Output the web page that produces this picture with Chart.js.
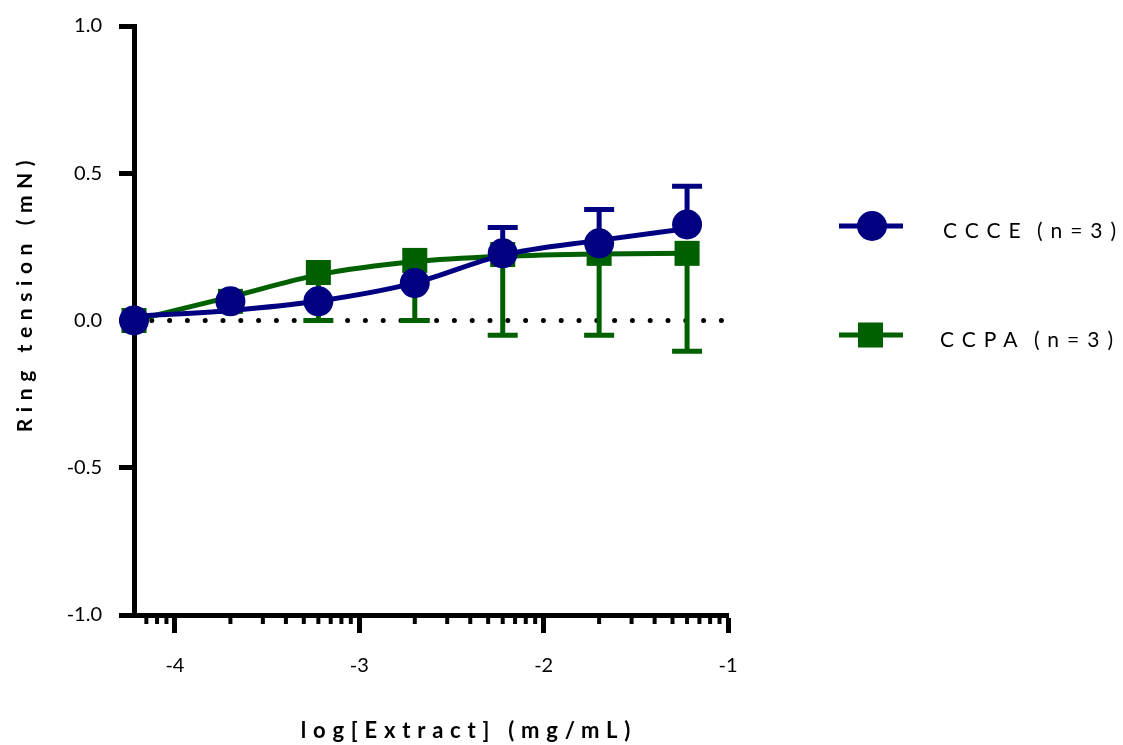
<!DOCTYPE html>
<html>
<head>
<meta charset="utf-8">
<script src="https://cdn.jsdelivr.net/npm/chart.js@4.4.1/dist/chart.umd.min.js"></script>
<style>
  html, body { margin: 0; padding: 0; background: #fff; }
  #wrap { width: 1123px; height: 745px; }
</style>
</head>
<body>
<div id="wrap"><canvas id="grafico" width="1123" height="745"></canvas></div>
<script>
// log[Extract] (mg/mL)
const logDose = [-4.222, -3.699, -3.222, -2.699, -2.222, -1.699, -1.222];

// CCCE: mean, SEM (drawn upward) and the fitted curve read at each dose
const ccceMean  = [0.0, 0.065, 0.065, 0.127, 0.228, 0.262, 0.326];
const ccceSem   = [0.0, 0.0, 0.0, 0.0, 0.088, 0.115, 0.130];
const ccceCurve = [0.014, 0.034, 0.066, 0.128, 0.222, 0.272, 0.312];

// CCPA: mean, SEM (drawn downward) and fitted curve
const ccpaMean  = [0.0, 0.065, 0.163, 0.204, 0.224, 0.228, 0.228];
const ccpaSem   = [0.0, 0.0, 0.163, 0.204, 0.274, 0.278, 0.332];
const ccpaCurve = [0.0, 0.080, 0.155, 0.200, 0.218, 0.226, 0.228];

const seriesNames = ['CCCE (n=3)', 'CCPA (n=3)'];
const xMajorTicks = [-4, -3, -2, -1];
const xMinorTicks = [
  -4.155, -4.097, -4.046,
  -3.699, -3.523, -3.398, -3.301, -3.222, -3.155, -3.097, -3.046,
  -2.699, -2.523, -2.398, -2.301, -2.222, -2.155, -2.097, -2.046,
  -1.699, -1.523, -1.398, -1.301, -1.222, -1.155, -1.097, -1.046
];

const NAVY = '#000080';
const GREEN = '#006000';
const FONT = 'Lato, "Open Sans", sans-serif';

const pts = (ys) => logDose.map((x, i) => ({ x: x, y: ys[i] }));

function drawErrorBars(ctx, x, y, means, sems, dir, color) {
  ctx.save();
  ctx.strokeStyle = color;
  ctx.lineWidth = 5;
  for (let i = 0; i < means.length; i++) {
    if (!sems[i]) continue;
    const px = x.getPixelForValue(logDose[i]);
    const p0 = y.getPixelForValue(means[i]);
    const p1 = y.getPixelForValue(means[i] + dir * sems[i]);
    ctx.beginPath();
    ctx.moveTo(px, p0);
    ctx.lineTo(px, p1);
    ctx.moveTo(px - 15, p1);
    ctx.lineTo(px + 15, p1);
    ctx.stroke();
  }
  ctx.restore();
}

const extras = {
  id: 'extras',
  beforeDatasetsDraw(chart) {
    const { ctx, scales: { x, y } } = chart;
    // dotted line at zero
    ctx.save();
    ctx.strokeStyle = '#000';
    ctx.lineWidth = 5;
    ctx.lineCap = 'round';
    ctx.setLineDash([0, 17.8]);
    ctx.beginPath();
    ctx.moveTo(x.getPixelForValue(x.min), y.getPixelForValue(0));
    ctx.lineTo(x.getPixelForValue(x.max), y.getPixelForValue(0));
    ctx.stroke();
    ctx.restore();

    drawErrorBars(ctx, x, y, ccceMean, ccceSem, 1, NAVY);
    drawErrorBars(ctx, x, y, ccpaMean, ccpaSem, -1, GREEN);
  },
  afterDraw(chart) {
    const { ctx, chartArea, scales: { x } } = chart;

    // minor log ticks on the x axis
    ctx.save();
    ctx.strokeStyle = '#000';
    ctx.lineWidth = 4;
    xMinorTicks.forEach(v => {
      const px = x.getPixelForValue(v);
      ctx.beginPath();
      ctx.moveTo(px, chartArea.bottom);
      ctx.lineTo(px, chartArea.bottom + 9);
      ctx.stroke();
    });
    ctx.restore();

    // axis titles
    ctx.save();
    ctx.fillStyle = '#000';
    ctx.textAlign = 'center';
    ctx.textBaseline = 'middle';
    ctx.font = 'bold 22px ' + FONT;
    ctx.letterSpacing = '6.8px';
    ctx.fillText('log[Extract] (mg/mL)', 469, 731);
    ctx.translate(25, 293);
    ctx.rotate(-Math.PI / 2);
    ctx.font = 'bold 21px ' + FONT;
    ctx.letterSpacing = '6.6px';
    ctx.fillText('Ring tension (mN)', 0, 0);
    ctx.restore();

    // legend
    const legendY = [226, 335];
    const colors = [NAVY, GREEN];
    ctx.save();
    seriesNames.forEach((name, i) => {
      const ly = legendY[i];
      ctx.strokeStyle = colors[i];
      ctx.fillStyle = colors[i];
      ctx.lineWidth = 5;
      ctx.beginPath();
      ctx.moveTo(839, ly);
      ctx.lineTo(903, ly);
      ctx.stroke();
      if (i === 0) {
        ctx.beginPath();
        ctx.arc(872, ly, 15, 0, Math.PI * 2);
        ctx.fill();
      } else {
        ctx.fillRect(858, ly - 12.5, 25, 25);
      }
      ctx.fillStyle = '#000';
      ctx.font = '21px ' + FONT;
      ctx.letterSpacing = '8px';
      ctx.wordSpacing = '-5px';
      ctx.textAlign = 'left';
      ctx.textBaseline = 'middle';
      ctx.fillText(name, i === 0 ? 943 : 940, ly + 5);
    });
    ctx.restore();
  }
};

const ctx = document.getElementById('grafico').getContext('2d');

new Chart(ctx, {
  type: 'scatter',
  data: {
    datasets: [
      {
        label: seriesNames[0],
        data: pts(ccceMean),
        showLine: false,
        pointStyle: 'circle',
        pointRadius: 15,
        pointBorderWidth: 0,
        backgroundColor: NAVY,
        borderColor: NAVY,
        clip: false
      },
      {
        label: seriesNames[0] + ' fit',
        data: pts(ccceCurve),
        showLine: true,
        pointRadius: 0,
        borderColor: NAVY,
        borderWidth: 5,
        cubicInterpolationMode: 'monotone',
        clip: false
      },
      {
        label: seriesNames[1],
        data: pts(ccpaMean),
        showLine: false,
        pointStyle: 'rect',
        pointRadius: 17.7,
        pointBorderWidth: 0,
        backgroundColor: GREEN,
        borderColor: GREEN,
        clip: false
      },
      {
        label: seriesNames[1] + ' fit',
        data: pts(ccpaCurve),
        showLine: true,
        pointRadius: 0,
        borderColor: GREEN,
        borderWidth: 5,
        cubicInterpolationMode: 'monotone',
        clip: false
      }
    ]
  },
  options: {
    responsive: false,
    animation: false,
    layout: { padding: { left: 0, top: 26, right: 395, bottom: 0 } },
    plugins: {
      legend: { display: false },
      tooltip: { enabled: false }
    },
    scales: {
      x: {
        type: 'linear',
        min: -4.222,
        max: -1,
        afterBuildTicks: (scale) => {
          scale.ticks = xMajorTicks.map(v => ({ value: v }));
        },
        afterFit: (scale) => {
          scale.height = 130;
          scale.paddingLeft = 0;
          scale.paddingRight = 0;
        },
        border: { display: true, color: '#000', width: 5 },
        grid: {
          display: true,
          drawOnChartArea: false,
          drawTicks: true,
          tickLength: 18,
          tickWidth: 5,
          tickColor: '#000'
        },
        ticks: {
          color: '#000',
          font: { family: FONT, size: 20 },
          padding: 21,
          maxRotation: 0,
          callback: (v) => String(v)
        }
      },
      y: {
        type: 'linear',
        min: -1,
        max: 1,
        afterFit: (scale) => {
          scale.width = 134;
          scale.paddingTop = 0;
          scale.paddingBottom = 0;
        },
        border: { display: true, color: '#000', width: 5 },
        grid: {
          display: true,
          drawOnChartArea: false,
          drawTicks: true,
          tickLength: 15,
          tickWidth: 5,
          tickColor: '#000'
        },
        ticks: {
          stepSize: 0.5,
          color: '#000',
          font: { family: FONT, size: 20 },
          padding: 17,
          callback: (v) => v.toFixed(1)
        }
      }
    }
  },
  plugins: [extras]
});
</script>
</body>
</html>
